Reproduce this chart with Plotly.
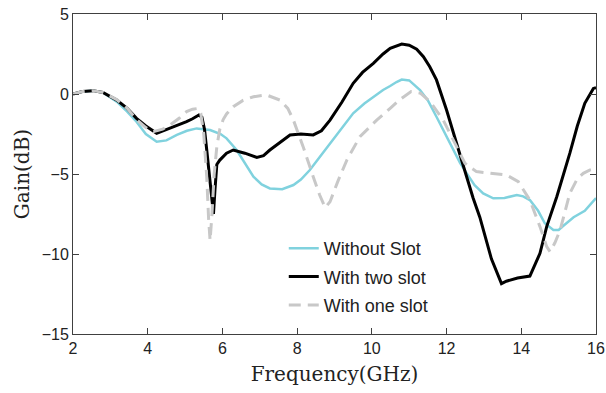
import plotly.graph_objects as go

# Without Slot (cyan)
x_without = [2.0, 2.25, 2.54, 2.8, 3.17, 3.45, 3.7, 3.95, 4.24, 4.5, 4.78, 5.05, 5.31, 5.67, 5.95,
             6.11, 6.38, 6.6, 6.83, 7.05, 7.27, 7.6, 7.9, 8.1, 8.34, 8.6, 8.88, 9.2, 9.5, 9.8,
             10.04, 10.3, 10.49, 10.66, 10.8, 11.0, 11.29, 11.5, 11.73, 11.95, 12.18, 12.36, 12.54,
             12.75, 12.98, 13.25, 13.55, 13.88, 14.05, 14.23, 14.45, 14.63, 14.86, 15.0, 15.12,
             15.4, 15.7, 16.0]
y_without = [0.0, 0.15, 0.21, 0.1, -0.48, -1.1, -1.73, -2.5, -2.98, -2.9, -2.56, -2.3, -2.15, -2.25,
             -2.5, -2.77, -3.5, -4.35, -5.17, -5.65, -5.9, -5.95, -5.69, -5.35, -4.75, -3.95, -3.08,
             -2.1, -1.21, -0.6, -0.17, 0.25, 0.5, 0.75, 0.9, 0.85, 0.25, -0.4, -1.42, -2.45, -3.5,
             -4.3, -4.96, -5.7, -6.21, -6.52, -6.5, -6.31, -6.4, -6.63, -7.3, -8.08, -8.5, -8.5,
             -8.25, -7.7, -7.3, -6.5]

# With two slot (black)
x_two = [2.0, 2.25, 2.54, 2.8, 3.17, 3.45, 3.7, 3.95, 4.24, 4.6, 5.04, 5.2, 5.37, 5.45, 5.52, 5.58,
         5.65, 5.72, 5.76, 5.8, 5.85, 5.93, 6.11, 6.29, 6.6, 6.92, 7.1, 7.27, 7.5, 7.81, 8.1, 8.43,
         8.65, 8.88, 9.2, 9.5, 9.75, 10.04, 10.3, 10.49, 10.8, 11.0, 11.2, 11.38, 11.55, 11.73,
         12.0, 12.27, 12.45, 12.71, 12.89, 13.2, 13.47, 13.6, 13.9, 14.23, 14.5, 14.68, 14.95,
         15.3, 15.5, 15.7, 15.93, 16.0]
y_two = [0.0, 0.15, 0.21, 0.1, -0.38, -0.9, -1.52, -2.0, -2.46, -2.15, -1.73, -1.55, -1.31, -1.45,
         -2.2, -3.5, -5.0, -6.5, -7.5, -6.0, -4.4, -4.13, -3.7, -3.5, -3.7, -3.96, -3.85, -3.5,
         -3.1, -2.56, -2.5, -2.56, -2.3, -1.63, -0.5, 0.67, 1.35, 1.92, 2.5, 2.86, 3.12, 3.05,
         2.8, 2.33, 1.7, 0.88, -1.0, -3.2, -4.5, -6.5, -7.7, -10.3, -11.85, -11.7, -11.5, -11.38,
         -9.96, -8.29, -6.42, -3.7, -2.0, -0.58, 0.35, 0.4]

# With one slot (gray dashed)
x_one = [2.0, 2.25, 2.54, 2.8, 3.17, 3.45, 3.7, 3.95, 4.15, 4.4, 4.6, 4.85, 5.04, 5.2, 5.35, 5.42,
         5.5, 5.58, 5.63, 5.67, 5.72, 5.78, 5.85, 5.93, 6.02, 6.11, 6.29, 6.55, 6.83, 7.18, 7.54,
         7.75, 7.9, 8.16, 8.43, 8.6, 8.75, 8.88, 9.1, 9.33, 9.68, 10.13, 10.49, 10.75, 11.05,
         11.3, 11.56, 11.91, 12.27, 12.49, 12.8, 13.2, 13.6, 13.92, 14.06, 14.23, 14.5, 14.68,
         14.77, 14.9, 15.04, 15.3, 15.5, 15.66, 15.84, 16.0]
y_one = [0.0, 0.15, 0.21, 0.1, -0.35, -0.9, -1.6, -2.1, -2.35, -2.2, -1.94, -1.5, -1.1, -0.95,
         -0.9, -1.2, -2.5, -5.17, -7.8, -9.15, -7.5, -5.0, -3.3, -2.2, -1.6, -1.25, -0.79, -0.4,
         -0.17, -0.06, -0.38, -0.9, -1.63, -3.29, -5.17, -6.3, -7.1, -6.73, -5.4, -4.13, -2.67,
         -1.63, -0.9, -0.35, 0.15, 0.05, -0.48, -1.63, -3.29, -4.33, -4.85, -4.95, -5.06, -5.48,
         -6.0, -6.63, -8.29, -9.54, -9.86, -9.3, -8.5, -6.2, -5.3, -4.96, -4.75, -4.7]

x_ticks = [2, 4, 6, 8, 10, 12, 14, 16]
y_ticks = [-15, -10, -5, 0, 5]

fig = go.Figure()
fig.add_trace(go.Scatter(x=x_without, y=y_without, mode="lines", name="Without Slot",
                         legendgroup="a", line=dict(color="rgb(128,210,222)", width=2.5)))
fig.add_trace(go.Scatter(x=x_two, y=y_two, mode="lines", name="With two slot",
                         legendgroup="b", line=dict(color="black", width=3)))
fig.add_trace(go.Scatter(x=x_one, y=y_one, mode="lines", name="With one slot",
                         legendgroup="c",
                         line=dict(color="rgb(200,200,200)", width=3, dash="12px,7px")))

axis_common = dict(showline=True, linecolor="#404040", linewidth=1, mirror="ticks",
                   ticks="inside", ticklen=6, tickcolor="#404040", tickwidth=1,
                   showgrid=False, zeroline=False, automargin=False,
                   tickfont=dict(family="Liberation Sans, Arial", size=16, color="#222"))

fig.update_xaxes(range=[2, 16], tickvals=x_ticks,
                 title=dict(text="Frequency(GHz)", font=dict(family="DejaVu Serif", size=20, color="#222"),
                            standoff=10),
                 **axis_common)
fig.update_yaxes(range=[-15, 5], tickvals=y_ticks,
                 title=dict(text="Gain(dB)", font=dict(family="DejaVu Serif", size=20, color="#222"),
                            standoff=6),
                 **axis_common)

fig.update_layout(
    width=606, height=393,
    margin=dict(l=73, r=10, t=14, b=59, autoexpand=False),
    paper_bgcolor="white", plot_bgcolor="white",
    showlegend=True,
    legend=dict(x=0.403, y=0.325, xanchor="left", yanchor="top",
                bgcolor="rgba(0,0,0,0)", borderwidth=0,
                font=dict(family="Liberation Sans, Arial", size=18, color="#222"),
                tracegroupgap=2, itemwidth=30),
)

fig.write_html("out.html")
